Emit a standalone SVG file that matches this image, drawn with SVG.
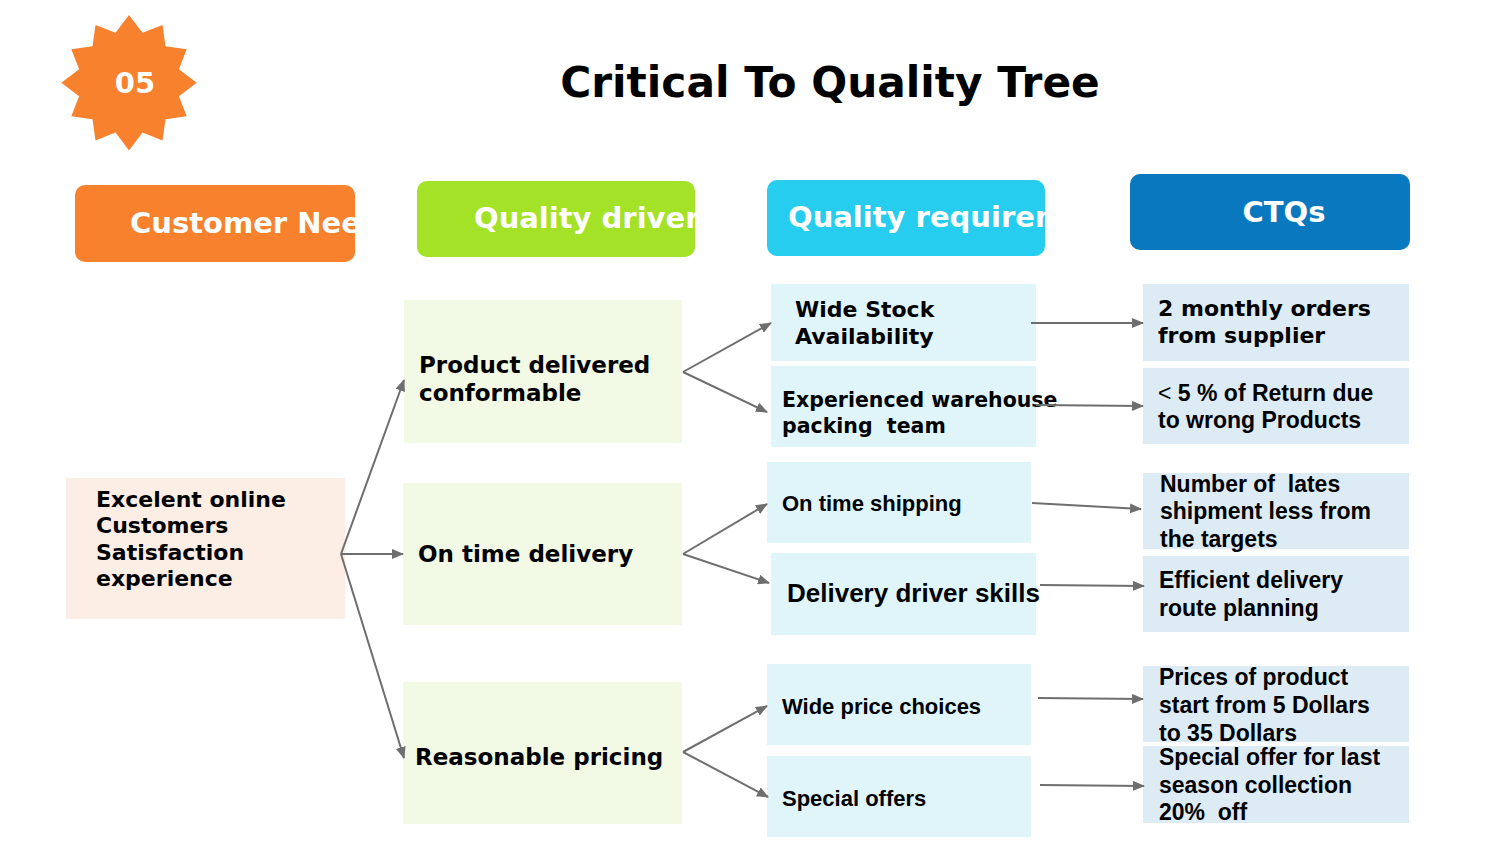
<svg xmlns="http://www.w3.org/2000/svg" width="1500" height="844" viewBox="0 0 1500 844">
<defs>
<style>
.hdr{font-family:"DejaVu Sans",sans-serif;font-weight:bold;font-size:29px;fill:#fff}
.dj{font-family:"DejaVu Sans",sans-serif;font-weight:bold;fill:#000}
.ar{font-family:"Liberation Sans",Arial,sans-serif;font-weight:bold;fill:#000}
.con{stroke:#6e6e6e;stroke-width:2;fill:none;marker-end:url(#ah)}
</style>
<marker id="ah" markerUnits="userSpaceOnUse" markerWidth="12" markerHeight="10" refX="11" refY="5" orient="auto">
<path d="M0,0 L12,5 L0,10 Z" fill="#6e6e6e"/>
</marker>
<clipPath id="c1"><rect x="75" y="185" width="280" height="77" rx="10"/></clipPath>
<clipPath id="c2"><rect x="417" y="181" width="278" height="76" rx="10"/></clipPath>
<clipPath id="c3"><rect x="767" y="180" width="278" height="76" rx="10"/></clipPath>
</defs>
<rect width="1500" height="844" fill="#fff"/>

<g id="badge">
<polygon fill="#f7812d" points="129.0,15.0 142.5,32.8 162.5,25.0 165.5,46.2 186.7,49.2 178.9,69.2 196.7,82.7 178.9,96.2 186.7,116.2 165.5,119.2 162.5,140.4 142.5,132.6 129.0,150.4 115.5,132.6 95.5,140.4 92.5,119.2 71.3,116.2 79.1,96.2 61.3,82.7 79.1,69.2 71.3,49.2 92.5,46.2 95.5,25.0 115.5,32.8"/>
<text x="135" y="93" text-anchor="middle" class="hdr" font-size="29">05</text>
</g>

<g id="title"><text x="830" y="97" text-anchor="middle" class="dj" font-size="42.3">Critical To Quality Tree</text></g>

<g id="h-customer">
<rect x="75" y="185" width="280" height="77" rx="10" fill="#f7812d"/>
<text x="130" y="233" class="hdr" clip-path="url(#c1)">Customer Needs</text>
</g>
<g id="h-drivers">
<rect x="417" y="181" width="278" height="76" rx="10" fill="#a3e227"/>
<text x="474" y="228" class="hdr" clip-path="url(#c2)">Quality drivers</text>
</g>
<g id="h-req">
<rect x="767" y="180" width="278" height="76" rx="10" fill="#27cdef"/>
<text x="788" y="227" class="hdr" clip-path="url(#c3)">Quality requirements</text>
</g>
<g id="h-ctq">
<rect x="1130" y="174" width="280" height="76" rx="10" fill="#0a78be"/>
<text x="1284" y="222" text-anchor="middle" class="hdr">CTQs</text>
</g>

<g id="need">
<rect x="66" y="478" width="279" height="141" fill="#fdeee5"/>
<text class="dj" font-size="22"><tspan x="96" y="507">Excelent online</tspan><tspan x="96" y="533">Customers</tspan><tspan x="96" y="560">Satisfaction</tspan><tspan x="96" y="586">experience</tspan></text>
</g>

<g id="d1">
<rect x="404" y="300" width="278" height="143" fill="#f2f9e4"/>
<text class="dj" font-size="23"><tspan x="419" y="373">Product delivered</tspan><tspan x="419" y="401">conformable</tspan></text>
</g>
<g id="d2">
<rect x="403" y="483" width="279" height="142" fill="#f2f9e4"/>
<text x="418" y="562" class="dj" font-size="23">On time delivery</text>
</g>
<g id="d3">
<rect x="403" y="682" width="279" height="142" fill="#f2f9e4"/>
<text x="415" y="765" class="dj" font-size="23">Reasonable pricing</text>
</g>

<g id="r1">
<rect x="771" y="284" width="265" height="77" fill="#e0f5fa"/>
<text class="dj" font-size="22"><tspan x="795" y="317">Wide Stock</tspan><tspan x="795" y="344">Availability</tspan></text>
</g>
<g id="r2">
<rect x="771" y="366" width="265" height="81" fill="#e0f5fa"/>
<text class="dj" font-size="20.5" xml:space="preserve"><tspan x="782" y="407">Experienced warehouse</tspan><tspan x="782" y="433">packing  team</tspan></text>
</g>
<g id="r3">
<rect x="767" y="462" width="264" height="81" fill="#e0f5fa"/>
<text x="782" y="511" class="ar" font-size="22">On time shipping</text>
</g>
<g id="r4">
<rect x="771" y="553" width="265" height="82" fill="#e0f5fa"/>
<text x="787" y="602" class="ar" font-size="26">Delivery driver skills</text>
</g>
<g id="r5">
<rect x="767" y="664" width="264" height="81" fill="#e0f5fa"/>
<text x="782" y="714" class="ar" font-size="22">Wide price choices</text>
</g>
<g id="r6">
<rect x="767" y="756" width="264" height="81" fill="#e0f5fa"/>
<text x="782" y="806" class="ar" font-size="22">Special offers</text>
</g>

<g id="q1">
<rect x="1143" y="284" width="266" height="77" fill="#ddebf5"/>
<text class="dj" font-size="22"><tspan x="1158" y="316">2 monthly orders</tspan><tspan x="1158" y="343">from supplier</tspan></text>
</g>
<g id="q2">
<rect x="1143" y="368" width="266" height="76" fill="#ddebf5"/>
<text class="ar" font-size="23"><tspan x="1158" y="401"><tspan font-weight="normal">&lt;</tspan> 5 % of Return due</tspan><tspan x="1158" y="428">to wrong Products</tspan></text>
</g>
<g id="q3">
<rect x="1143" y="473" width="266" height="76" fill="#ddebf5"/>
<text class="ar" font-size="23" xml:space="preserve"><tspan x="1160" y="492">Number of  lates</tspan><tspan x="1160" y="519">shipment less from</tspan><tspan x="1160" y="547">the targets</tspan></text>
</g>
<g id="q4">
<rect x="1143" y="556" width="266" height="76" fill="#ddebf5"/>
<text class="ar" font-size="23"><tspan x="1159" y="588">Efficient delivery</tspan><tspan x="1159" y="616">route planning</tspan></text>
</g>
<g id="q5">
<rect x="1143" y="666" width="266" height="76" fill="#ddebf5"/>
<text class="ar" font-size="23"><tspan x="1159" y="685">Prices of product</tspan><tspan x="1159" y="713">start from 5 Dollars</tspan><tspan x="1159" y="741">to 35 Dollars</tspan></text>
</g>
<g id="q6">
<rect x="1143" y="746" width="266" height="77" fill="#ddebf5"/>
<text class="ar" font-size="23" xml:space="preserve"><tspan x="1159" y="765">Special offer for last</tspan><tspan x="1159" y="793">season collection</tspan><tspan x="1159" y="820">20%  off</tspan></text>
</g>

<g id="connectors">
<line class="con" x1="341" y1="554" x2="404" y2="380"/>
<line class="con" x1="341" y1="554" x2="403" y2="554"/>
<line class="con" x1="341" y1="554" x2="404" y2="758"/>
<line class="con" x1="683" y1="372" x2="771" y2="323"/>
<line class="con" x1="683" y1="372" x2="767" y2="412"/>
<line class="con" x1="683" y1="554" x2="767" y2="504"/>
<line class="con" x1="683" y1="554" x2="769" y2="583"/>
<line class="con" x1="683" y1="752" x2="767" y2="706"/>
<line class="con" x1="683" y1="752" x2="768" y2="797"/>
<line class="con" x1="1031" y1="323" x2="1143" y2="323"/>
<line class="con" x1="1036" y1="405" x2="1143" y2="406"/>
<line class="con" x1="1032" y1="503" x2="1141" y2="509"/>
<line class="con" x1="1040" y1="585" x2="1144" y2="586"/>
<line class="con" x1="1038" y1="698" x2="1143" y2="699"/>
<line class="con" x1="1040" y1="785" x2="1144" y2="786"/>
</g>
</svg>
